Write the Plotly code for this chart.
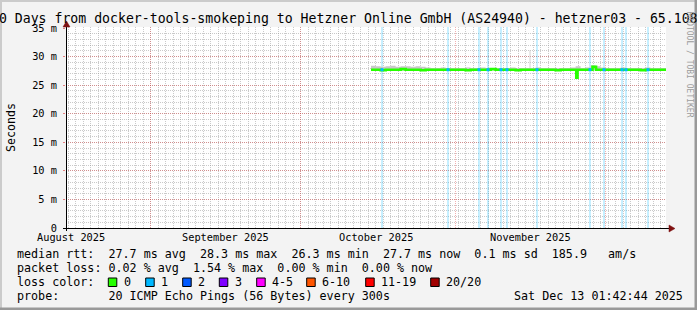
import plotly.graph_objects as go

# ---------------- data ----------------
x_start = "2025-08-15 01:42:44"
x_end = "2025-12-13 01:42:44"
month_starts = ["2025-09-01", "2025-10-01", "2025-11-01", "2025-12-01"]
month_label_dates = ["2025-08-16", "2025-09-16", "2025-10-16", "2025-11-16"]
month_labels = ["August 2025", "September 2025", "October 2025", "November 2025"]
y_tick_vals = [0, 5, 10, 15, 20, 25, 30, 35]
y_tick_text = ["0", "5 m", "10 m", "15 m", "20 m", "25 m", "30 m", "35 m"]

median_time = [
    "2025-10-15 01:40", "2025-10-16", "2025-10-17", "2025-10-18", "2025-10-19", "2025-10-20",
    "2025-10-21", "2025-10-22", "2025-10-23", "2025-10-24", "2025-10-25", "2025-10-26",
    "2025-10-27", "2025-10-28", "2025-10-29", "2025-10-30", "2025-10-31",
    "2025-11-01", "2025-11-02", "2025-11-03", "2025-11-04", "2025-11-05", "2025-11-06",
    "2025-11-07", "2025-11-08", "2025-11-09", "2025-11-10", "2025-11-11", "2025-11-12",
    "2025-11-13", "2025-11-14", "2025-11-15", "2025-11-16", "2025-11-17", "2025-11-18",
    "2025-11-19", "2025-11-20", "2025-11-21", "2025-11-22", "2025-11-23", "2025-11-24",
    "2025-11-25", "2025-11-25 03:00", "2025-11-25 09:00", "2025-11-26", "2025-11-27",
    "2025-11-28", "2025-11-28 09:00", "2025-11-29 02:00", "2025-11-30",
    "2025-12-01", "2025-12-02", "2025-12-03", "2025-12-04", "2025-12-05", "2025-12-06",
    "2025-12-07", "2025-12-08", "2025-12-09", "2025-12-10", "2025-12-11", "2025-12-12",
    "2025-12-13", "2025-12-13 01:40",
]
median_ms = [
    27.7, 27.7, 27.6, 27.7, 27.7, 27.7,
    27.8, 27.7, 27.7, 27.7, 27.6, 27.7,
    27.7, 27.7, 27.7, 27.7, 27.7,
    27.7, 27.7, 27.6, 27.7, 27.7, 27.7,
    27.7, 27.8, 27.7, 27.7, 27.7, 27.7,
    27.6, 27.7, 27.7, 27.7, 27.7, 27.7,
    27.7, 27.7, 27.6, 27.7, 27.7, 27.7,
    27.7, 26.3, 27.7, 27.7, 27.7,
    27.7, 28.2, 27.7, 27.7,
    27.7, 27.7, 27.7, 27.7, 27.7, 27.7,
    27.7, 27.6, 27.7, 27.7, 27.7, 27.7,
    27.7, 27.7,
]

smoke_time = [
    "2025-10-15 01:40", "2025-10-16", "2025-10-17", "2025-10-18", "2025-10-19", "2025-10-20",
    "2025-10-21", "2025-10-22", "2025-10-23", "2025-10-24", "2025-10-25", "2025-10-26",
    "2025-10-27", "2025-10-28", "2025-10-29", "2025-10-30", "2025-10-31",
    "2025-11-01", "2025-11-02", "2025-11-03", "2025-11-04", "2025-11-05", "2025-11-06",
    "2025-11-07", "2025-11-08", "2025-11-09", "2025-11-10", "2025-11-11", "2025-11-12",
    "2025-11-13", "2025-11-14", "2025-11-15", "2025-11-15 19:00", "2025-11-15 23:00",
    "2025-11-16", "2025-11-17", "2025-11-18", "2025-11-19", "2025-11-20", "2025-11-21",
    "2025-11-22", "2025-11-23", "2025-11-24", "2025-11-25", "2025-11-26", "2025-11-27",
    "2025-11-28", "2025-11-29", "2025-11-30",
    "2025-12-01", "2025-12-02", "2025-12-03", "2025-12-04", "2025-12-05", "2025-12-06",
    "2025-12-07", "2025-12-08", "2025-12-09", "2025-12-10", "2025-12-11", "2025-12-12",
    "2025-12-13", "2025-12-13 01:40",
]
smoke_hi_ms = [
    28.4, 28.3, 28.2, 28.3, 28.4, 28.2,
    28.3, 28.3, 28.2, 28.3, 28.2, 28.1,
    28.0, 28.0, 28.1, 28.0, 28.0,
    28.0, 28.0, 28.1, 28.0, 28.0, 28.1,
    28.0, 28.0, 28.0, 28.0, 28.0, 28.1,
    28.0, 28.0, 28.0, 31.1, 28.0,
    28.0, 28.1, 28.0, 28.0, 28.0, 28.0,
    28.0, 28.0, 28.1, 28.3, 28.0, 28.1,
    28.5, 28.3, 28.1,
    28.0, 28.0, 28.0, 28.1, 28.0, 28.0,
    28.0, 28.0, 28.1, 28.0, 28.0, 28.0,
    28.0, 28.0,
]
smoke_lo_ms = [27.6] * len(smoke_hi_ms)

loss_time = [
    "2025-10-17 06:30", "2025-10-30 11:20", "2025-11-05 16:00", "2025-11-07 11:20",
    "2025-11-10 01:40", "2025-11-11 06:30", "2025-11-17 06:30", "2025-11-27 20:50",
    "2025-11-30 16:10", "2025-12-04 06:30", "2025-12-05 01:40", "2025-12-09 11:20",
]

loss_labels = ["0", "1", "2", "3", "4-5", "6-10", "11-19", "20/20"]
loss_colors = ["#26ff00", "#00b8ff", "#0059ff", "#7e00ff", "#ff00ff", "#ff5500", "#ff0000", "#a10000"]
loss_box_px = [108.3, 145.7, 182.7, 219.3, 256.7, 306.7, 365.7, 430.7]

stat_lines = [
    "median rtt:  27.7 ms avg  28.3 ms max  26.3 ms min  27.7 ms now  0.1 ms sd  185.9   am/s",
    "packet loss: 0.02 % avg  1.54 % max  0.00 % min  0.00 % now",
    "loss color:",
    "probe:       20 ICMP Echo Pings (56 Bytes) every 300s",
]
timestamp = "Sat Dec 13 01:42:44 2025"
title = "120 Days from docker-tools-smokeping to Hetzner Online GmbH (AS24940) - hetzner03 - 65.108"
y_title = "Seconds"
watermark = "RRDTOOL / TOBI OETIKER"

# ---------------- layout geometry ----------------
W, H = 697, 310
PL, PR, PT, PB = 66, 666, 27, 228
YMAX = 35 * (PB - PT) / 200.0
MONO = "DejaVu Sans Mono"


def px(x):
    return (x - PL) / (PR - PL)


def py(y):
    return (PB - y) / (PB - PT)


def nb(s):
    return s.replace(" ", "\u00a0")


fig = go.Figure()

# loss background lines
lx, ly = [], []
for t in loss_time:
    lx += [t, t, None]
    ly += [0, YMAX, None]
fig.add_trace(go.Scatter(x=lx, y=ly, mode="lines", line=dict(color="rgba(0,184,255,0.45)", width=1),
                         hoverinfo="skip", showlegend=False))

# smoke
fig.add_trace(go.Scatter(x=smoke_time, y=smoke_lo_ms, mode="lines", line=dict(width=0, shape="hv"),
                         hoverinfo="skip", showlegend=False))
fig.add_trace(go.Scatter(x=smoke_time, y=smoke_hi_ms, mode="lines", line=dict(width=0, shape="hv"),
                         fill="tonexty", fillcolor="#c8c8c8", hoverinfo="skip", showlegend=False))

# median: thin dark line then green
fig.add_trace(go.Scatter(x=median_time, y=median_ms, mode="lines", line=dict(color="#202020", width=1, shape="hv"),
                         hoverinfo="skip", showlegend=False))
fig.add_trace(go.Scatter(x=median_time, y=median_ms, mode="lines", line=dict(color="#26ff00", width=2.6, shape="hv"),
                         hoverinfo="skip", showlegend=False))
fig.add_trace(go.Scatter(x=loss_time, y=[27.7] * len(loss_time), mode="markers",
                         marker=dict(symbol="square", size=3, color="#00b8ff", line=dict(width=0)),
                         hoverinfo="skip", showlegend=False))

shapes = []
# frame shading
shapes.append(dict(type="rect", xref="paper", yref="paper", x0=px(0), x1=px(W), y0=py(0), y1=py(2),
                   fillcolor="#cbcbcb", line=dict(width=0), layer="above"))
shapes.append(dict(type="rect", xref="paper", yref="paper", x0=px(0), x1=px(2), y0=py(0), y1=py(H),
                   fillcolor="#cbcbcb", line=dict(width=0), layer="above"))
shapes.append(dict(type="rect", xref="paper", yref="paper", x0=px(0), x1=px(W), y0=py(H - 2.5), y1=py(H),
                   fillcolor="#999999", line=dict(width=0), layer="above"))
shapes.append(dict(type="rect", xref="paper", yref="paper", x0=px(W - 2.5), x1=px(W), y0=py(0), y1=py(H),
                   fillcolor="#999999", line=dict(width=0), layer="above"))
# axes lines
shapes.append(dict(type="line", xref="paper", yref="paper", x0=px(63), x1=px(670), y0=py(228.5), y1=py(228.5),
                   line=dict(color="#000000", width=1), layer="above"))
shapes.append(dict(type="line", xref="paper", yref="paper", x0=px(66.5), x1=px(66.5), y0=py(231), y1=py(25),
                   line=dict(color="#000000", width=1), layer="above"))
# arrows
shapes.append(dict(type="path", xref="paper", yref="paper",
                   path=f"M {px(669)} {py(225)} L {px(675)} {py(228.5)} L {px(669)} {py(232)} Z",
                   fillcolor="#7f1010", line=dict(color="#7f1010", width=0.5), layer="above"))
shapes.append(dict(type="path", xref="paper", yref="paper",
                   path=f"M {px(63)} {py(27)} L {px(66.5)} {py(21)} L {px(70)} {py(27)} Z",
                   fillcolor="#7f1010", line=dict(color="#7f1010", width=0.5), layer="above"))
# loss colour boxes
for xb, c in zip(loss_box_px, loss_colors):
    shapes.append(dict(type="rect", xref="paper", yref="paper", x0=px(xb), x1=px(xb + 8.5),
                       y0=py(278), y1=py(286.5), fillcolor=c, line=dict(color="#000000", width=1), layer="above"))

annotations = []
annotations.append(dict(text=nb(title), xref="paper", yref="paper", x=px(-19.5), y=py(18.5),
                        xanchor="left", yanchor="middle", showarrow=False,
                        font=dict(family=MONO, size=13.2, color="#000000")))
annotations.append(dict(text=y_title, xref="paper", yref="paper", x=px(11), y=py(128), textangle=-90,
                        xanchor="center", yanchor="middle", showarrow=False,
                        font=dict(family=MONO, size=11.6, color="#000000")))
annotations.append(dict(text=nb(watermark), xref="paper", yref="paper", x=px(689.5), y=py(64), textangle=90,
                        xanchor="center", yanchor="middle", showarrow=False,
                        font=dict(family=MONO, size=8.0, color="#9c9c9c")))
for d, lab in zip(month_label_dates, month_labels):
    annotations.append(dict(text=nb(lab), xref="x", yref="paper", x=d, y=py(237),
                            xanchor="center", yanchor="middle", showarrow=False,
                            font=dict(family=MONO, size=10.3, color="#000000")))
for i, line in enumerate(stat_lines):
    annotations.append(dict(text=nb(line), xref="paper", yref="paper", x=px(14.5), y=py(254 + 14 * i),
                            xanchor="left", yanchor="middle", showarrow=False,
                            font=dict(family=MONO, size=11.7, color="#000000")))
for xb, lab in zip(loss_box_px, loss_labels):
    annotations.append(dict(text=nb(lab), xref="paper", yref="paper", x=px(xb + 13.3), y=py(282),
                            xanchor="left", yanchor="middle", showarrow=False,
                            font=dict(family=MONO, size=11.7, color="#000000")))
annotations.append(dict(text=nb(timestamp), xref="paper", yref="paper", x=px(512), y=py(296),
                        xanchor="left", yanchor="middle", showarrow=False,
                        font=dict(family=MONO, size=11.7, color="#000000")))

fig.update_layout(
    width=W, height=H, autosize=False,
    margin=dict(l=PL, r=W - PR, t=PT, b=H - PB, pad=0),
    paper_bgcolor="#f3f3f3", plot_bgcolor="#ffffff",
    showlegend=False,
    shapes=shapes, annotations=annotations,
    xaxis=dict(type="date", range=[x_start, x_end], tickmode="array", tickvals=month_starts,
               showticklabels=False, ticks="", showgrid=True, gridcolor="rgba(222,48,48,0.38)",
               griddash="1px,1px", gridwidth=1, zeroline=False, showline=False,
               minor=dict(dtick=129600000, tick0="2025-09-01", showgrid=True,
                          gridcolor="rgba(150,150,150,0.5)", griddash="1px,1px", gridwidth=1, ticks="")),
    yaxis=dict(range=[0, YMAX], tickmode="array", tickvals=y_tick_vals, ticktext=y_tick_text,
               ticks="outside", ticklen=2, tickcolor="rgba(222,48,48,0.6)",
               showgrid=True, gridcolor="rgba(222,48,48,0.38)", griddash="1px,1px", gridwidth=1,
               zeroline=False, showline=False, ticklabelstandoff=4,
               tickfont=dict(family=MONO, size=10.3, color="#000000"),
               minor=dict(dtick=1, tick0=0, showgrid=True, gridcolor="rgba(150,150,150,0.5)",
                          griddash="1px,1px", gridwidth=1, ticks="")),
)

fig.write_html("out.html", config={"displayModeBar": False})
